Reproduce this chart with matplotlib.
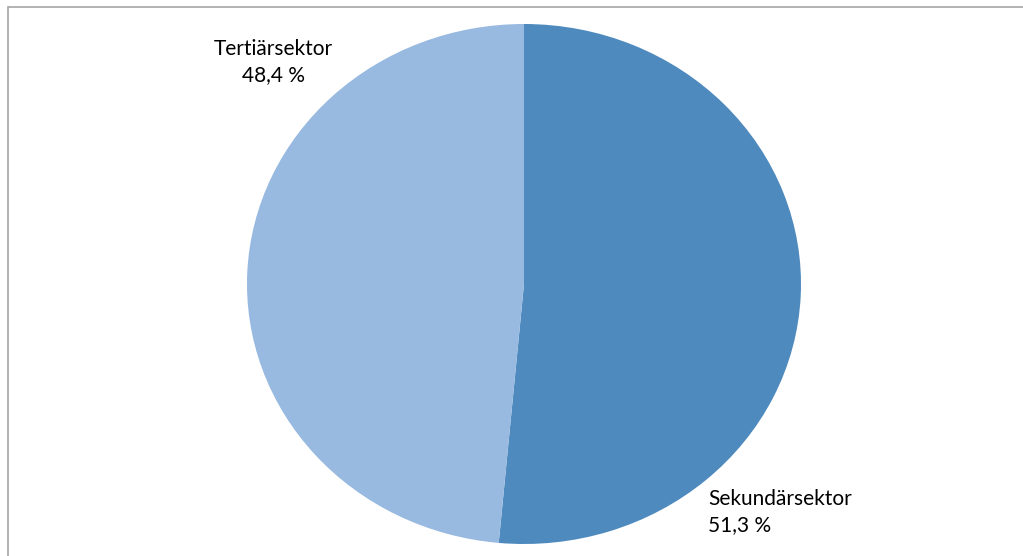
import matplotlib
matplotlib.use("Agg")
import matplotlib.pyplot as plt
from matplotlib.patches import Rectangle

sectors = ["Sekundärsektor", "Tertiärsektor"]
shares = [51.3, 48.4]
share_labels = ["51,3 %", "48,4 %"]
colors = ["#4F8ABE", "#98B9E0"]

W, H = 1023, 556
fig = plt.figure(figsize=(W / 100, H / 100), dpi=100)

# chart border (runs off the right and bottom edge)
fig.patches.append(Rectangle((8 / W, -0.1), 1.2, (H - 7) / H + 0.1,
                             transform=fig.transFigure, fill=False,
                             edgecolor="#A6A6A6", linewidth=1.2))

# pie is slightly wider than tall, so map unit circle onto an ellipse
cx, cy, rx, ry = 524, H - 284, 277, 260
ax = fig.add_axes([(cx - rx) / W, (cy - ry) / H, 2 * rx / W, 2 * ry / H])
ax.pie(shares, colors=colors, startangle=90, counterclock=False,
       wedgeprops=dict(linewidth=0))
ax.set_xlim(-1, 1)
ax.set_ylim(-1, 1)
ax.set_aspect("auto")
ax.axis("off")

font = dict(family=["Lato", "DejaVu Sans"], fontsize=15, color="#000000",
            linespacing=1.4)
fig.text(273 / W, 1 - 62 / H, sectors[1] + "\n" + share_labels[1],
         ha="center", va="center", **font)
fig.text(708 / W, 1 - 512 / H, sectors[0] + "\n" + share_labels[0],
         ha="left", va="center", **font)

fig.savefig("out.png", dpi=100)
